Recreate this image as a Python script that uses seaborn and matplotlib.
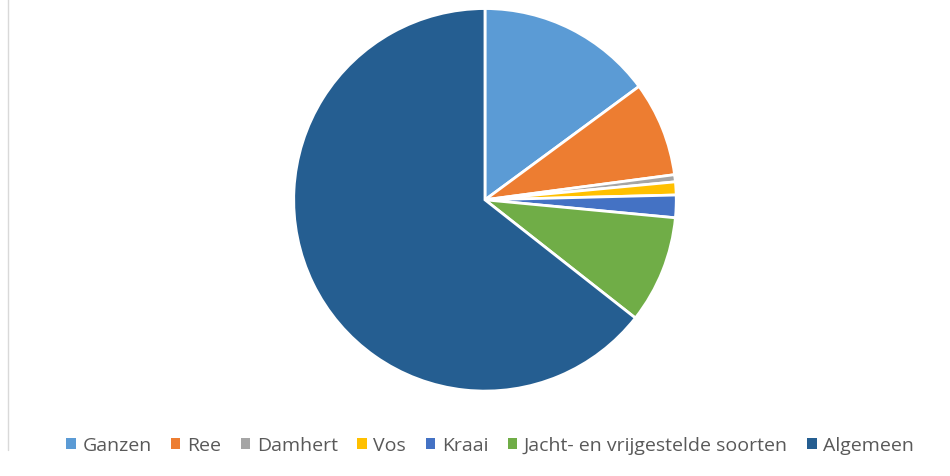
import seaborn as sns
import matplotlib.pyplot as plt
from matplotlib.lines import Line2D
from matplotlib.patches import Patch

# shares per category (percent)
categories = ["Ganzen", "Ree", "Damhert", "Vos", "Kraai",
              "Jacht- en vrijgestelde soorten", "Algemeen"]
shares = [14.9, 8.0, 0.6, 1.1, 1.9, 9.1, 64.4]
colors = ["#5B9BD5", "#ED7D31", "#A5A5A5", "#FFC000", "#4472C4",
          "#70AD47", "#255E91"]

sns.set_theme(style="white")
plt.rcParams['font.family'] = ['Open Sans', 'DejaVu Sans']
pal = sns.color_palette(colors)

fig = plt.figure(figsize=(9.5, 4.77), dpi=100)
ax = fig.add_axes([0.3084, 0.178, 0.4042, 0.802])
ax.pie(shares, colors=pal, startangle=90, counterclock=False,
       wedgeprops=dict(edgecolor="white", linewidth=2))
ax.set_xlim(-1.0, 1.0)
ax.set_ylim(-1.0, 1.0)
ax.set_aspect("equal")

# thin frame line on the left
fig.add_artist(Line2D([0.008, 0.008], [0.055, 1.0], color="#d9d9d9",
                      linewidth=1, transform=fig.transFigure))

handles = [Patch(facecolor=c, edgecolor="none") for c in pal]
fig.legend(handles, categories, loc="center", bbox_to_anchor=(0.516, 0.064),
           ncol=len(categories), frameon=False, fontsize=14,
           handlelength=0.48, handleheight=0.48, handletextpad=0.35,
           columnspacing=1.0, labelcolor="#595959")

fig.savefig("out.png", dpi=100)
